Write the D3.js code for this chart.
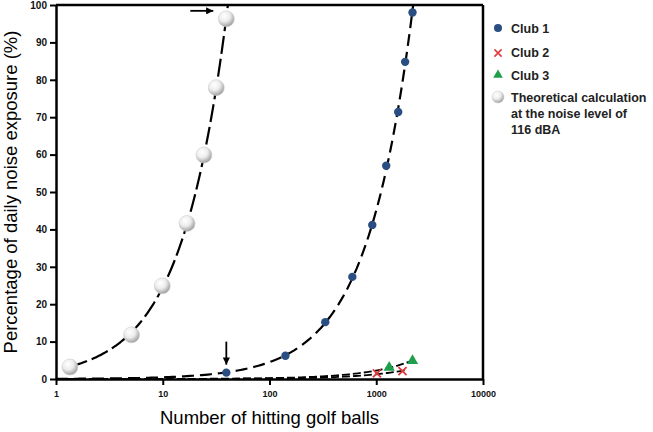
<!DOCTYPE html>
<html>
<head>
<meta charset="utf-8">
<script src="https://cdn.jsdelivr.net/npm/d3@7"></script>
<style>
  body { margin: 0; background: #fff; }
  svg { display: block; font-family: Arial, "Liberation Sans", sans-serif; }
</style>
</head>
<body>
<script>
// data
var theoryBalls = [1.35, 5.1, 9.9, 16.9, 24.3, 31.7, 39.4];
var theoryPct = [3.2, 11.8, 24.9, 41.6, 59.9, 77.9, 96.3];
var club1Balls = [39.4, 141, 333, 597, 918, 1240, 1606, 1864, 2186];
var club1Pct = [1.7, 6.2, 15.2, 27.3, 41.2, 57, 71.4, 84.8, 98];
var club2Balls = [1014, 1762];
var club2Pct = [1.5, 2.1];
var club3Balls = [1322, 2186];
var club3Pct = [3.1, 4.9];
var xTicks = [1, 10, 100, 1000, 10000];
var yTicks = [0, 10, 20, 30, 40, 50, 60, 70, 80, 90, 100];
var legendLabels = ["Club 1", "Club 2", "Club 3", "Theoretical calculation", "at the noise level of", "116 dBA"];

var svgWidth = 653;
var svgHeight = 432;
var margin = { top: 5, right: 170, bottom: 53, left: 56 };
var chartWidth = svgWidth - margin.left - margin.right;
var chartHeight = svgHeight - margin.top - margin.bottom;

var svg = d3.select("body")
    .append("svg")
    .attr("width", svgWidth)
    .attr("height", svgHeight);

var defs = svg.append("defs");

// grey sphere look for the theoretical points
var grad = defs.append("radialGradient")
    .attr("id", "sphere")
    .attr("cx", "38%").attr("cy", "32%").attr("r", "70%");
grad.append("stop").attr("offset", "0%").attr("stop-color", "#ffffff");
grad.append("stop").attr("offset", "50%").attr("stop-color", "#ececec");
grad.append("stop").attr("offset", "100%").attr("stop-color", "#9c9c9c");

defs.append("marker")
    .attr("id", "arrow")
    .attr("viewBox", "0 0 10 10")
    .attr("refX", 10).attr("refY", 5)
    .attr("markerWidth", 4).attr("markerHeight", 4)
    .attr("markerUnits", "strokeWidth")
    .attr("orient", "auto")
    .append("path")
    .attr("d", "M0,0 L10,5 L0,10 Z")
    .attr("fill", "#000");

defs.append("clipPath").attr("id", "plotClip")
    .append("rect")
    .attr("width", chartWidth).attr("height", chartHeight);

var chartGroup = svg.append("g")
    .attr("transform", `translate(${margin.left}, ${margin.top})`);

var xScale = d3.scaleLog()
    .domain([1, 10000])
    .range([0, chartWidth]);

var yScale = d3.scaleLinear()
    .domain([0, 100])
    .range([chartHeight, 0]);

function pairs(xs, ys) {
    return xs.map((d, i) => ({ x: d, y: ys[i] }));
}
var theory = pairs(theoryBalls, theoryPct);
var club1 = pairs(club1Balls, club1Pct);
var club2 = pairs(club2Balls, club2Pct);
var club3 = pairs(club3Balls, club3Pct);

// trend lines: straight proportional fit (y = k*x) through the points
function slope(pts) {
    var sxy = d3.sum(pts, d => d.x * d.y);
    var sxx = d3.sum(pts, d => d.x * d.x);
    return sxy / sxx;
}
function trend(pts, x0, x1) {
    var k = slope(pts);
    var lo = Math.log10(x0), hi = Math.log10(x1);
    return d3.range(0, 121).map(i => {
        var x = Math.pow(10, lo + (hi - lo) * i / 120);
        return { x: x, y: k * x };
    });
}

var line = d3.line()
    .x(d => xScale(d.x))
    .y(d => yScale(d.y));

var lineGroup = chartGroup.append("g").attr("clip-path", "url(#plotClip)");

var kTheory = slope(theory);
var kClub1 = slope(club1);

lineGroup.append("path")
    .datum(trend(theory, theory[0].x, 100 / kTheory))
    .attr("d", line)
    .attr("fill", "none").attr("stroke", "#000")
    .attr("stroke-width", 2.2)
    .attr("stroke-dasharray", "18,5");

lineGroup.append("path")
    .datum(trend(club1, 1, 100 / kClub1))
    .attr("d", line)
    .attr("fill", "none").attr("stroke", "#000")
    .attr("stroke-width", 2.2)
    .attr("stroke-dasharray", "12,6");

[club2, club3].forEach(function (pts) {
    lineGroup.append("path")
        .datum(trend(pts, 1, d3.max(pts, d => d.x) * 1.05))
        .attr("d", line)
        .attr("fill", "none").attr("stroke", "#000")
        .attr("stroke-width", 1.8)
        .attr("stroke-dasharray", "8,3");
});

// axes
var leftAxis = d3.axisLeft(yScale).tickValues(yTicks).tickSize(6).tickSizeOuter(0).tickPadding(3);
var bottomAxis = d3.axisBottom(xScale).tickValues(xTicks).tickFormat(d3.format("d"))
    .tickSize(6).tickSizeOuter(0).tickPadding(6);

var yAxisG = chartGroup.append("g").call(leftAxis);
var xAxisG = chartGroup.append("g")
    .attr("transform", `translate(0, ${chartHeight})`)
    .call(bottomAxis);

[yAxisG, xAxisG].forEach(function (g) {
    g.select(".domain").attr("stroke", "#000").attr("stroke-width", 2.5);
    g.selectAll(".tick line").attr("stroke", "#000").attr("stroke-width", 2);
    g.selectAll(".tick text").attr("fill", "#111").attr("font-weight", "bold")
        .attr("font-family", "Arial, 'Liberation Sans', sans-serif");
});
yAxisG.selectAll(".tick text").attr("font-size", 10);
xAxisG.selectAll(".tick text").attr("font-size", 9);

// top and right frame
chartGroup.append("line")
    .attr("x1", 0).attr("x2", chartWidth)
    .attr("y1", yScale(100)).attr("y2", yScale(100))
    .attr("stroke", "#000").attr("stroke-width", 2.5);
chartGroup.append("line")
    .attr("x1", xScale(10000)).attr("x2", xScale(10000))
    .attr("y1", yScale(100)).attr("y2", chartHeight)
    .attr("stroke", "#000").attr("stroke-width", 2.5);

// points
chartGroup.selectAll(".theory").data(theory).enter()
    .append("circle")
    .attr("cx", d => xScale(d.x)).attr("cy", d => yScale(d.y))
    .attr("r", 8)
    .attr("fill", "url(#sphere)")
    .attr("stroke", "#cfcfcf").attr("stroke-width", 0.6);

chartGroup.selectAll(".club1").data(club1).enter()
    .append("circle")
    .attr("cx", d => xScale(d.x)).attr("cy", d => yScale(d.y))
    .attr("r", 4.2)
    .attr("fill", "#2a4e82");

var crossSym = d3.symbol().type(d3.symbolX).size(45);
chartGroup.selectAll(".club2").data(club2).enter()
    .append("path")
    .attr("d", crossSym)
    .attr("transform", d => `translate(${xScale(d.x)}, ${yScale(d.y)})`)
    .attr("fill", "none").attr("stroke", "#e03a3a").attr("stroke-width", 1.8);

var triSym = d3.symbol().type(d3.symbolTriangle).size(55);
chartGroup.selectAll(".club3").data(club3).enter()
    .append("path")
    .attr("d", triSym)
    .attr("transform", d => `translate(${xScale(d.x)}, ${yScale(d.y)})`)
    .attr("fill", "#1f9e4c");

// arrows marking the 40-ball points
var lastTheory = theory[theory.length - 1];
chartGroup.append("line")
    .attr("x1", xScale(lastTheory.x) - 36).attr("x2", xScale(lastTheory.x) - 13)
    .attr("y1", yScale(lastTheory.y) - 8).attr("y2", yScale(lastTheory.y) - 8)
    .attr("stroke", "#000").attr("stroke-width", 1.8)
    .attr("marker-end", "url(#arrow)");
chartGroup.append("line")
    .attr("x1", xScale(club1[0].x)).attr("x2", xScale(club1[0].x))
    .attr("y1", yScale(club1[0].y) - 31).attr("y2", yScale(club1[0].y) - 8)
    .attr("stroke", "#000").attr("stroke-width", 1.8)
    .attr("marker-end", "url(#arrow)");

// axis titles
svg.append("text")
    .attr("transform", `translate(17, ${margin.top + chartHeight / 2}) rotate(-90)`)
    .attr("text-anchor", "middle")
    .attr("font-size", 18.5)
    .attr("fill", "#000")
    .text("Percentage of daily noise exposure (%)");

svg.append("text")
    .attr("x", margin.left + chartWidth / 2)
    .attr("y", 424)
    .attr("text-anchor", "middle")
    .attr("font-size", 18.5)
    .attr("fill", "#000")
    .text("Number of hitting golf balls");

// legend
var legend = svg.append("g").attr("transform", "translate(498, 0)");
var legendY = [28, 52, 75, 97, 113, 129];

legend.append("circle").attr("cx", 0).attr("cy", legendY[0]).attr("r", 4).attr("fill", "#2a4e82");
legend.append("path").attr("d", d3.symbol().type(d3.symbolX).size(35))
    .attr("transform", `translate(0, ${legendY[1] + 1})`)
    .attr("fill", "none").attr("stroke", "#e03a3a").attr("stroke-width", 1.6);
legend.append("path").attr("d", d3.symbol().type(d3.symbolTriangle).size(40))
    .attr("transform", `translate(0, ${legendY[2]})`)
    .attr("fill", "#1f9e4c");
legend.append("circle").attr("cx", 0).attr("cy", legendY[3]).attr("r", 6)
    .attr("fill", "url(#sphere)").attr("stroke", "#cfcfcf").attr("stroke-width", 0.5);

legend.selectAll(".lab").data(legendLabels).enter()
    .append("text")
    .attr("x", 13)
    .attr("y", (d, i) => legendY[i])
    .attr("dy", "0.36em")
    .attr("font-size", 12.5)
    .attr("font-weight", "bold")
    .attr("fill", "#222")
    .text(d => d);
</script>
</body>
</html>
